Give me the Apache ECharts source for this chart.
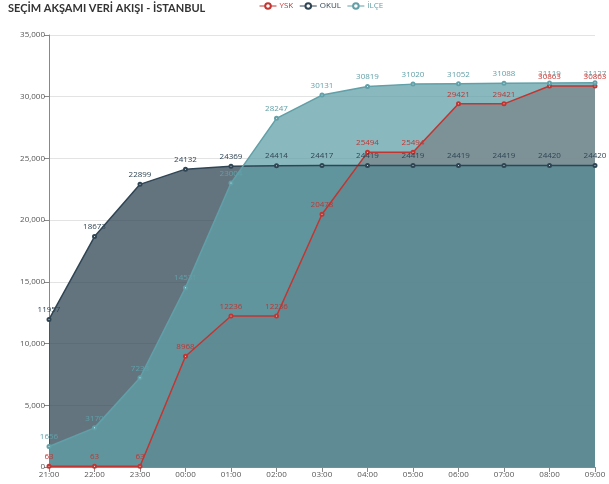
<!DOCTYPE html>
<html>
<head>
<meta charset="utf-8">
<script src="https://cdn.jsdelivr.net/npm/echarts@6/dist/echarts.min.js"></script>
<style>
  html, body { margin: 0; padding: 0; background: #fff; }
  #main { width: 609px; height: 484px; }
</style>
</head>
<body>
<div id="main"></div>
<script>
// saatler
const hours = ["21:00", "22:00", "23:00", "00:00", "01:00", "02:00", "03:00",
  "04:00", "05:00", "06:00", "07:00", "08:00", "09:00"];
const ysk = [63, 63, 63, 8968, 12236, 12236, 20478, 25494, 25494, 29421, 29421, 30863, 30863];
const okul = [11957, 18673, 22899, 24132, 24369, 24414, 24417, 24419, 24419, 24419, 24419, 24420, 24420];
const ilce = [1656, 3170, 7233, 14531, 23004, 28247, 30131, 30819, 31020, 31052, 31088, 31119, 31127];

const names = ["YSK", "OKUL", "İLÇE"];
const values = [ysk, okul, ilce];
const colors = ["#c23531", "#2f4554", "#61a0a8"];

let chart = echarts.init(document.getElementById("main"));

let series = [];
// çizgiler + etiketler (üstte)
for (let i = 0; i < 3; i++) {
  series.push({
    name: names[i],
    type: "line",
    data: values[i],
    z: 3,
    symbol: "emptyCircle",
    symbolSize: 3,
    itemStyle: { color: colors[i], borderWidth: 0.6 },
    lineStyle: { color: colors[i], width: 1.5 },
    label: {
      show: true,
      position: "top",
      distance: 3,
      fontSize: 8,
      fontFamily: "Open Sans",
      color: colors[i],
    },
  });
}
// alanlar (altta)
for (let i = 0; i < 3; i++) {
  series.push({
    name: names[i],
    type: "line",
    data: values[i],
    z: 1,
    showSymbol: false,
    lineStyle: { width: 0 },
    areaStyle: { color: colors[i], opacity: 0.75 },
    silent: true,
  });
}

let option = {
  animation: false,
  color: colors,
  title: {
    text: "SEÇİM AKŞAMI VERİ AKIŞI - İSTANBUL",
    left: 3,
    top: -2,
    textStyle: {
      fontSize: 11,
      fontWeight: "bold",
      fontFamily: "Lato",
      color: "#333",
    },
  },
  legend: {
    left: 254,
    top: -3,
    itemWidth: 17,
    itemHeight: 7,
    itemGap: 6,
    data: names.map((n, i) => ({
      name: n,
      textStyle: { color: colors[i] },
      lineStyle: { width: 1 },
      itemStyle: { borderWidth: 1 },
    })),
    textStyle: { fontSize: 8, fontFamily: "Open Sans", padding: [0, 0, 0, -2] },
  },
  grid: {
    left: 49,
    right: 14,
    top: 35,
    bottom: 17,
  },
  xAxis: {
    type: "category",
    boundaryGap: false,
    data: hours,
    axisLine: { lineStyle: { color: "#888" } },
    axisTick: { show: true, lineStyle: { color: "#888" } },
    axisLabel: { fontSize: 8, color: "#555", fontFamily: "Open Sans", margin: 4 },
  },
  yAxis: {
    type: "value",
    min: 0,
    max: 35000,
    interval: 5000,
    axisLine: { show: true, lineStyle: { color: "#888" } },
    axisTick: { show: true, lineStyle: { color: "#888" } },
    axisLabel: { fontSize: 8, color: "#555", fontFamily: "Open Sans", margin: 4 },
    splitLine: { lineStyle: { color: "#e3e3e3" } },
  },
  series: series,
};
chart.setOption(option);
</script>
</body>
</html>
